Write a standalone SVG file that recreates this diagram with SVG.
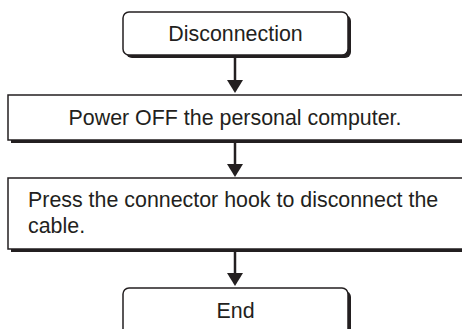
<svg xmlns="http://www.w3.org/2000/svg" width="462" height="329" viewBox="0 0 462 329">
<defs>
<style>
.shadow{fill:#231f20;stroke:none}
.box{fill:#fff;stroke:#231f20;stroke-width:1.5}
.t{font-family:"Liberation Sans",Arial,sans-serif;font-size:21.4px;fill:#231f20}
.c{text-anchor:middle}
.line{stroke:#231f20;stroke-width:2.5;fill:none}
.head{fill:#231f20}
</style>
</defs>
<rect width="462" height="329" fill="#fff"/>
<g id="start">
<rect class="shadow" x="126" y="15" width="225" height="43" rx="6"/>
<rect class="box" x="123" y="12" width="225" height="43" rx="6"/>
<text class="t c" x="235.5" y="41">Disconnection</text>
</g>
<g id="step1">
<rect class="shadow" x="11" y="98" width="470" height="45"/>
<rect class="box" x="8" y="95" width="470" height="45"/>
<text class="t c" x="235" y="125">Power OFF the personal computer.</text>
</g>
<g id="step2">
<rect class="shadow" x="11" y="181" width="470" height="71"/>
<rect class="box" x="8" y="178" width="470" height="71"/>
<text class="t" x="28" y="207">Press the connector hook to disconnect the</text>
<text class="t" x="28" y="233">cable.</text>
</g>
<g id="end">
<rect class="shadow" x="126" y="291" width="225" height="50" rx="6"/>
<rect class="box" x="123" y="288" width="225" height="50" rx="6"/>
<text class="t c" x="235.5" y="318">End</text>
</g>
<g id="connectors">
<path class="line" d="M235,58 V82"/>
<polygon class="head" points="227,80 243,80 235,93"/>
<path class="line" d="M235,143 V165"/>
<polygon class="head" points="227,164 243,164 235,177"/>
<path class="line" d="M235,252 V275"/>
<polygon class="head" points="227,273 243,273 235,286"/>
</g>
</svg>
